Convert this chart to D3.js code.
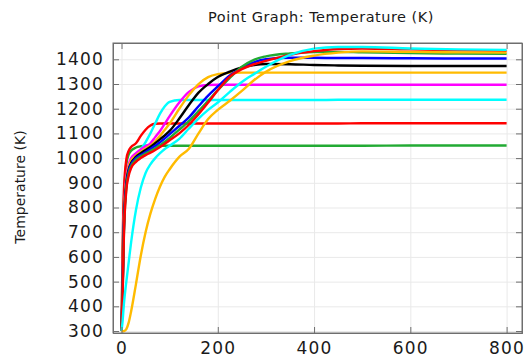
<!DOCTYPE html>
<html>
<head>
<meta charset="utf-8">
<script src="https://cdn.jsdelivr.net/npm/d3@7"></script>
<style>
  body { margin: 0; background: #fff; }
  text { font-family: "DejaVu Sans", sans-serif; }
</style>
</head>
<body>
<div class="chart"></div>
<script>
// time (s) shared by every series
const times = [0, 2, 5, 10, 15, 20, 30, 40, 50, 60, 70, 80, 90, 100, 120, 140, 160, 180, 200, 225, 250, 275, 300, 350, 400, 450, 500, 600, 700, 800]

// temperatures (K), one array per point
const tGreen1  = [300, 560, 830, 975, 1015, 1030, 1043, 1048, 1050, 1050, 1050, 1050, 1050, 1050, 1050, 1050, 1050, 1050, 1050, 1050, 1050, 1050, 1050, 1050, 1050, 1050, 1050, 1051, 1051, 1051]
const tRed1    = [300, 600, 870, 995, 1030, 1045, 1060, 1090, 1115, 1132, 1139, 1140, 1140, 1140, 1140, 1140, 1140, 1140, 1140, 1140, 1140, 1140, 1140, 1140, 1140, 1140, 1141, 1141, 1141, 1141]
const tCyan1   = [300, 450, 720, 900, 960, 990, 1012, 1035, 1065, 1100, 1140, 1180, 1210, 1228, 1235, 1235, 1235, 1235, 1235, 1235, 1235, 1235, 1235, 1235, 1235, 1236, 1236, 1236, 1236, 1236]
const tMagenta = [300, 480, 760, 920, 975, 1000, 1020, 1035, 1048, 1060, 1085, 1110, 1140, 1170, 1225, 1268, 1290, 1296, 1297, 1297, 1297, 1297, 1297, 1297, 1297, 1297, 1297, 1297, 1297, 1297]
const tYellow1 = [300, 470, 750, 910, 965, 990, 1010, 1025, 1038, 1050, 1068, 1090, 1115, 1140, 1200, 1255, 1300, 1328, 1340, 1345, 1346, 1346, 1346, 1346, 1346, 1346, 1346, 1346, 1346, 1346]
const tBlack   = [300, 450, 730, 900, 955, 980, 1005, 1020, 1033, 1045, 1060, 1076, 1092, 1110, 1160, 1215, 1265, 1300, 1328, 1350, 1367, 1377, 1381, 1380, 1377, 1375, 1374, 1373, 1373, 1373]
const tBlue    = [300, 440, 720, 890, 950, 975, 1000, 1013, 1025, 1037, 1050, 1064, 1080, 1097, 1130, 1165, 1210, 1253, 1290, 1335, 1365, 1388, 1400, 1406, 1406, 1405, 1405, 1404, 1403, 1403]
const tGreen2  = [300, 430, 700, 880, 940, 968, 993, 1007, 1018, 1029, 1040, 1052, 1066, 1082, 1115, 1150, 1190, 1232, 1275, 1325, 1370, 1398, 1412, 1424, 1429, 1430, 1428, 1425, 1423, 1422]
const tRed2    = [300, 420, 690, 870, 930, 960, 985, 1000, 1012, 1022, 1033, 1045, 1058, 1072, 1100, 1135, 1178, 1225, 1275, 1330, 1360, 1380, 1394, 1418, 1433, 1442, 1444, 1440, 1436, 1434]
const tCyan2   = [300, 335, 410, 500, 580, 660, 790, 880, 940, 975, 1000, 1020, 1037, 1050, 1078, 1120, 1160, 1195, 1225, 1268, 1308, 1340, 1370, 1418, 1443, 1450, 1450, 1444, 1440, 1438]
const tYellow2 = [300, 299, 300, 308, 335, 380, 490, 605, 700, 775, 835, 885, 925, 955, 1005, 1038, 1100, 1158, 1195, 1232, 1272, 1315, 1350, 1393, 1415, 1427, 1432, 1430, 1428, 1427]

const xTicks = [0, 200, 400, 600, 800]
const yTicks = [300, 400, 500, 600, 700, 800, 900, 1000, 1100, 1200, 1300, 1400]

const series = [
  { values: tGreen1,  color: '#22aa33' },
  { values: tRed1,    color: '#ff0000' },
  { values: tCyan1,   color: '#00ffff' },
  { values: tMagenta, color: '#ff00ff' },
  { values: tYellow1, color: '#ffbb00' },
  { values: tBlack,   color: '#000000' },
  { values: tBlue,    color: '#0000ff' },
  { values: tGreen2,  color: '#22aa33' },
  { values: tRed2,    color: '#ff0000' },
  { values: tCyan2,   color: '#00ffff' },
  { values: tYellow2, color: '#ffbb00' }
]

const margin = { top: 43, right: 4, bottom: 27, left: 113 }
const width = 526 - margin.left - margin.right
const height = 360 - margin.top - margin.bottom

const svg = d3.select('.chart')
  .append('svg')
  .attr('width', 526)
  .attr('height', 360)

const g = svg.append('g')
  .attr('transform', `translate(${margin.left}, ${margin.top})`)

const xScale = d3.scaleLinear()
  .domain([-17.7, 832])
  .range([0, width])

const yScale = d3.scaleLinear()
  .domain([292, 1466])
  .range([height, 0])

// grid
g.append('g')
  .attr('class', 'grid')
  .attr('transform', `translate(0, ${height})`)
  .call(d3.axisBottom(xScale).tickValues(xTicks).tickSize(-height).tickFormat(''))
g.append('g')
  .attr('class', 'grid')
  .call(d3.axisLeft(yScale).tickValues(yTicks).tickSize(-width).tickFormat(''))
g.selectAll('.grid .domain').remove()

// lines
g.append('clipPath').attr('id', 'clip')
  .append('rect').attr('width', width).attr('height', height)

const line = d3.line()
  .x((d, i) => xScale(times[i]))
  .y(d => yScale(d))
  .curve(d3.curveMonotoneX)

g.append('g')
  .attr('clip-path', 'url(#clip)')
  .selectAll('path')
  .data(series)
  .enter()
  .append('path')
  .attr('d', d => line(d.values))
  .attr('fill', 'none')
  .attr('stroke', d => d.color)
  .attr('stroke-width', 2.4)
  .attr('stroke-linejoin', 'round')

// axes, ticks pointing inside on all four sides
const xAxis = g.append('g')
  .attr('transform', `translate(0, ${height})`)
  .call(d3.axisBottom(xScale).tickValues(xTicks).tickSize(-6).tickPadding(9).tickFormat(d3.format('d')))
const yAxis = g.append('g')
  .call(d3.axisLeft(yScale).tickValues(yTicks).tickSize(-6).tickPadding(9).tickFormat(d3.format('d')))
g.append('g')
  .call(d3.axisTop(xScale).tickValues(xTicks).tickSize(-6).tickFormat(''))
g.append('g')
  .attr('transform', `translate(${width}, 0)`)
  .call(d3.axisRight(yScale).tickValues(yTicks).tickSize(-6).tickFormat(''))

g.selectAll('.domain, .tick line').attr('stroke', '#6e6e6e')
g.selectAll('.grid line').attr('stroke', '#e9e9e9')

// frame
g.append('rect')
  .attr('width', width)
  .attr('height', height)
  .attr('fill', 'none')
  .attr('stroke', '#6e6e6e')

xAxis.selectAll('text')
  .attr('font-size', 17)
  .attr('fill', '#1a1a1a')
  .style('letter-spacing', '1.2px')
yAxis.selectAll('text')
  .attr('font-size', 17)
  .attr('fill', '#1a1a1a')
  .style('letter-spacing', '1.2px')

svg.append('text')
  .attr('x', 321)
  .attr('y', 22)
  .attr('text-anchor', 'middle')
  .attr('font-size', 14.5)
  .attr('fill', '#1a1a1a')
  .style('letter-spacing', '0.5px')
  .text('Point Graph: Temperature (K)')

svg.append('text')
  .attr('transform', 'rotate(-90)')
  .attr('x', -187)
  .attr('y', 25)
  .attr('text-anchor', 'middle')
  .attr('font-size', 14)
  .attr('fill', '#1a1a1a')
  .text('Temperature (K)')
</script>
</body>
</html>
